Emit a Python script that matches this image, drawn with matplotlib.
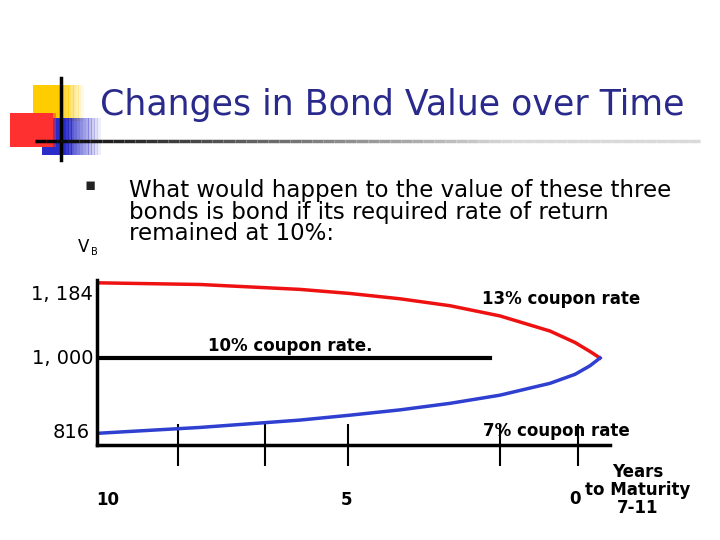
import numpy as np
import matplotlib.pyplot as plt
from matplotlib.patches import Rectangle

# years to maturity and bond values
years = [10, 8, 6, 5, 4, 3, 2, 1, 0.5, 0.2, 0]
value_13 = [1184, 1180, 1168, 1158, 1145, 1128, 1103, 1066, 1038, 1016, 1000]
value_7 = [816, 830, 848, 860, 873, 889, 909, 938, 960, 981, 1000]
par_years = [10, 2.2]
par_value = [1000, 1000]
tick_years = [8.45, 6.7, 5.05, 2.0, 0.45]

W, H = 720, 540
fig = plt.figure(figsize=(7.2, 5.4), dpi=100)


def fx(px):
    return px / W


def fy(py):
    return 1 - py / H


# decorative logo
deco = fig.add_axes([0, 0, 1, 1], zorder=0)
deco.set_xlim(0, W)
deco.set_ylim(H, 0)
deco.axis('off')


def fade_rect(x0, y0, w, h, color, fade_from=0.45):
    n = 20
    for i in range(n):
        t = i / n
        a = 1.0 if t < fade_from else max(0.0, 1 - (t - fade_from) / (1 - fade_from))
        deco.add_patch(Rectangle((x0 + w * t, y0), w / n + 0.5, h, color=color, alpha=a, lw=0))


fade_rect(33, 85, 50, 36, '#ffcc00', 0.5)
fade_rect(42, 118, 58, 37, '#2b2bc8', 0.35)
fade_rect(10, 113, 45, 34, '#ff3030', 0.9)
deco.plot([61, 61], [78, 160], color='black', lw=2.5)
n = 60
xs = np.linspace(35, 700, n + 1)
for i in range(n):
    g = min(0.85, i / n * 1.2)
    deco.plot(xs[i:i + 2], [141, 141], color=(g, g, g), lw=2.5, solid_capstyle='butt')

fig.text(fx(100), fy(105), 'Changes in Bond Value over Time', fontsize=25,
         color='#2a2a8c', va='center', ha='left')

fig.text(fx(85), fy(185), '\u25aa', fontsize=12, color='#222222', va='center', ha='left')
fig.text(fx(129), fy(212), 'What would happen to the value of these three\n'
         'bonds is bond if its required rate of return\nremained at 10%:',
         fontsize=16.5, va='center', ha='left', linespacing=0.92)
fig.text(fx(78), fy(247), 'V', fontsize=12, va='center', ha='left')
fig.text(fx(91), fy(252), 'B', fontsize=7, va='center', ha='left')

# main chart
ax = fig.add_axes([fx(97), fy(445), fx(610 - 97), (445 - 280) / H], zorder=2)
ax.patch.set_alpha(0)
ax.set_xlim(10.06, -0.2)
ax.set_ylim(787, 1191)
ax.plot(years, value_13, color='#ee1111', lw=2.5)
ax.plot(years, value_7, color='#2f3fd0', lw=2.5)
ax.plot(par_years, par_value, color='black', lw=3)
for s in ['top', 'right']:
    ax.spines[s].set_visible(False)
for s in ['left', 'bottom']:
    ax.spines[s].set_linewidth(2.5)
ax.set_yticks([])
ax.set_xticks(tick_years)
ax.set_xticklabels([])
ax.tick_params(axis='x', direction='inout', length=30, width=1.5)

fig.text(fx(93), fy(294), '1, 184', fontsize=14, ha='right', va='center')
fig.text(fx(93), fy(358), '1, 000', fontsize=14, ha='right', va='center')
fig.text(fx(90), fy(433), '816', fontsize=14, ha='right', va='center')
fig.text(fx(640), fy(299), '13% coupon rate', fontsize=12, fontweight='bold', ha='right', va='center')
fig.text(fx(372), fy(346), '10% coupon rate.', fontsize=12, fontweight='bold', ha='right', va='center')
fig.text(fx(630), fy(431), '7% coupon rate', fontsize=12, fontweight='bold', ha='right', va='center')
fig.text(fx(108), fy(500), '10', fontsize=12, fontweight='bold', ha='center', va='center')
fig.text(fx(347), fy(500), '5', fontsize=12, fontweight='bold', ha='center', va='center')
fig.text(fx(575), fy(499), '0', fontsize=12, fontweight='bold', ha='center', va='center')
fig.text(fx(638), fy(490), 'Years\nto Maturity\n7-11', fontsize=12, fontweight='bold',
         ha='center', va='center', linespacing=1.0)

fig.savefig('out.png', dpi=100)
